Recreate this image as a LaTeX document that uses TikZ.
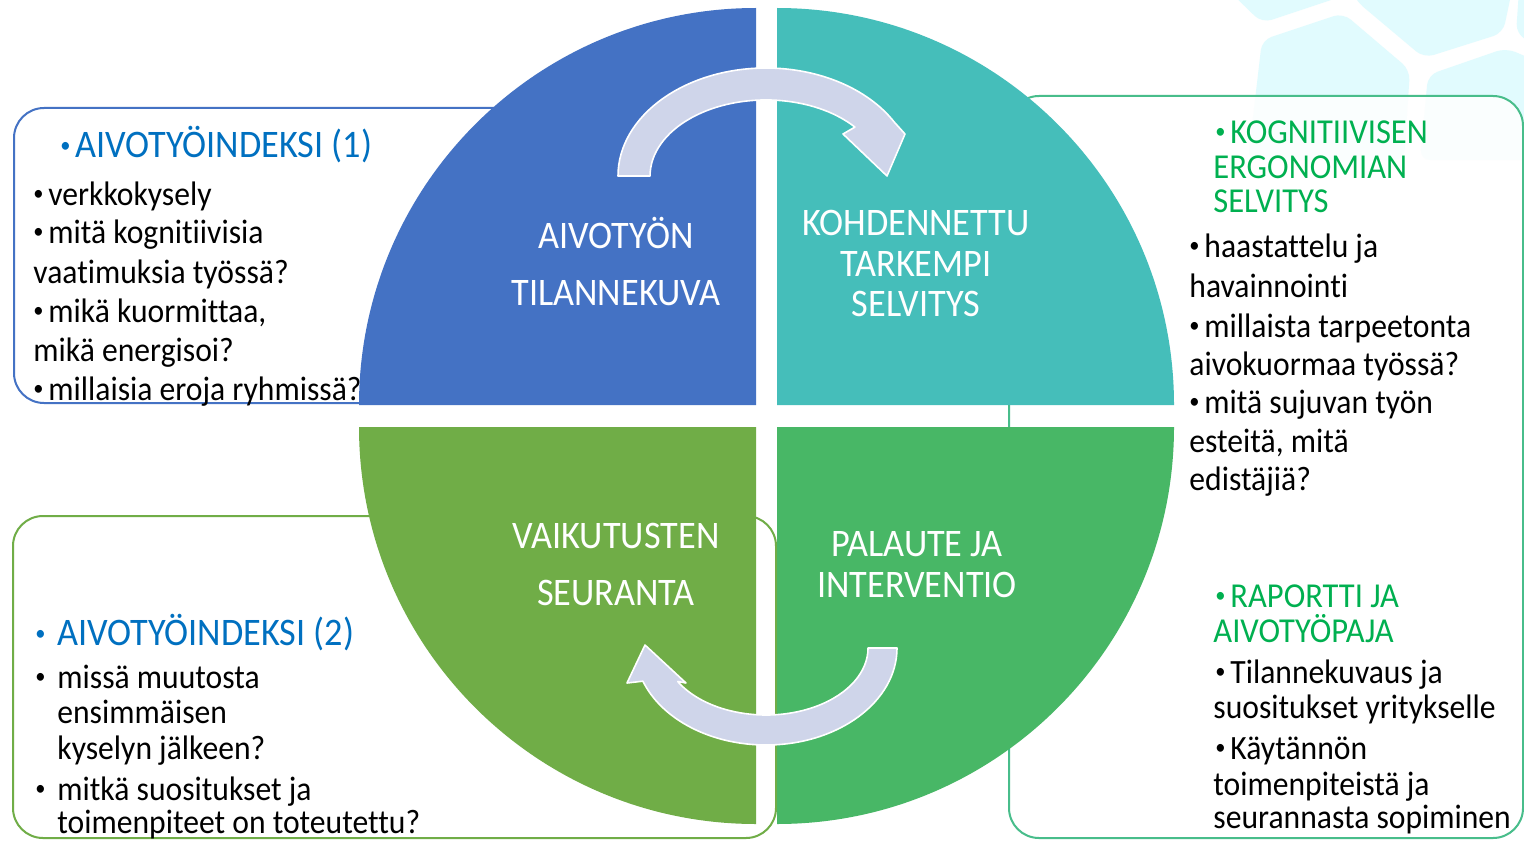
\documentclass[tikz,border=0pt]{standalone}
\usepackage{fontspec}
\setmainfont{Carlito}[FakeStretch=0.93, Ligatures=NoCommon]
\definecolor{qblue}{RGB}{68,114,196}
\definecolor{qteal}{RGB}{69,190,186}
\definecolor{qlgreen}{RGB}{112,173,71}
\definecolor{qgreen}{RGB}{72,183,102}
\definecolor{arrowfill}{RGB}{207,213,234}
\definecolor{headblue}{RGB}{0,112,192}
\definecolor{headgreen}{RGB}{0,176,80}
\definecolor{boxgreen}{RGB}{72,189,139}
\definecolor{hexcyan}{RGB}{225,251,254}
\newcommand\bul{\makebox[7.5pt][l]{\raisebox{0.12em}{\fontsize{11}{11}\selectfont •}}}
\begin{document}
\begin{tikzpicture}[x=0.5pt,y=-0.5pt,
  bodytxt/.style={anchor=base west, inner sep=0pt, font=\fontsize{17}{20}\selectfont, text=black},
  headL/.style={anchor=base west, inner sep=0pt, font=\fontsize{19.5}{23}\selectfont, text=headblue},
  headR/.style={anchor=base west, inner sep=0pt, font=\fontsize{17.5}{21}\selectfont, text=headgreen},
  qlabel/.style={anchor=base, inner sep=0pt, font=\fontsize{19.5}{23}\selectfont, text=white},
  cyclearrow/.style={fill=arrowfill, draw=white, line width=0.8pt, line join=round},
  hexcell/.style={fill=hexcyan, rounded corners=5pt},
  panelbox/.style={line width=1pt, rounded corners=15pt}]
\useasboundingbox (0,0) rectangle (1524,840);
\fill[white] (0,0) rectangle (1524,840);
\begin{scope}
\clip (0,0) rectangle (1524,840);
% background hexagon pattern
\path[hexcell] (1228,-10) -- (1262,23) -- (1340,-3) -- (1345,-10) -- cycle;
\path[hexcell] (1262,40) -- (1343,13) -- (1410,70) -- (1404,160) -- (1248,160) -- cycle;
\path[hexcell] (1352,-10) -- (1355,0) -- (1424,58) -- (1503,33) -- (1512,-10) -- cycle;
\path[hexcell] (1519,-10) -- (1516,34) -- (1534,44) -- (1534,-10) -- cycle;
\path[hexcell] (1428,75) -- (1506,48) -- (1534,60) -- (1534,160) -- (1420,160) -- cycle;
% panels
\draw[panelbox, draw=boxgreen, fill=white, fill opacity=0.85] (1009,96) rectangle (1523,838);
\draw[panelbox, draw=qblue, fill=white] (14,108) rectangle (620,403);
\draw[panelbox, draw=qlgreen, fill=white] (13,516) rectangle (776,838);
\end{scope}
% top-left texts
\node[headL] (tl0) at (60,157) {\bul AIVOTYÖINDEKSI (1)};
\node[bodytxt] (tl1) at (33,205) {\bul verkkokysely};
\node[bodytxt] (tl2) at (33,243) {\bul mitä kognitiivisia};
\node[bodytxt] (tl3) at (33,283) {vaatimuksia työssä?};
\node[bodytxt] (tl4) at (33,322) {\bul mikä kuormittaa,};
\node[bodytxt] (tl5) at (33,361) {mikä energisoi?};
\node[bodytxt] (tl6) at (33,400) {\bul millaisia eroja ryhmissä?};
% top-right texts
\node[headR] (tr0) at (1215,143) {\bul KOGNITIIVISEN};
\node[headR] (tr1) at (1213,178) {ERGONOMIAN};
\node[headR] (tr2) at (1213,212) {SELVITYS};
\node[bodytxt] (tr3) at (1189,257) {\bul haastattelu ja};
\node[bodytxt] (tr4) at (1189,297) {havainnointi};
\node[bodytxt] (tr5) at (1189,337) {\bul millaista tarpeetonta};
\node[bodytxt] (tr6) at (1189,375) {aivokuormaa työssä?};
\node[bodytxt] (tr7) at (1189,413) {\bul mitä sujuvan työn};
\node[bodytxt] (tr8) at (1189,452) {esteitä, mitä};
\node[bodytxt] (tr9) at (1189,490) {edistäjiä?};
% bottom-right texts
\node[headR] (br0) at (1215,607) {\bul RAPORTTI JA};
\node[headR] (br1) at (1213,642) {AIVOTYÖPAJA};
\node[bodytxt] (br2) at (1215,683) {\bul Tilannekuvaus ja};
\node[bodytxt] (br3) at (1213,718) {suositukset yritykselle};
\node[bodytxt] (br4) at (1215,759) {\bul Käytännön};
\node[bodytxt] (br5) at (1213,795) {toimenpiteistä ja};
\node[bodytxt] (br6) at (1213,828) {seurannasta sopiminen};
% bottom-left texts
\node[headL] (blb0) at (35,645) {\bul};
\node[headL] (bl0) at (57,645) {AIVOTYÖINDEKSI (2)};
\node[bodytxt] (blb1) at (35,688) {\bul};
\node[bodytxt] (bl1) at (57,688) {missä muutosta};
\node[bodytxt] (bl2) at (57,723) {ensimmäisen};
\node[bodytxt] (bl3) at (57,759) {kyselyn jälkeen?};
\node[bodytxt] (blb4) at (35,800) {\bul};
\node[bodytxt] (bl4) at (57,800) {mitkä suositukset ja};
\node[bodytxt] (bl5) at (57,833) {toimenpiteet on toteutettu?};
% quadrants
\fill[qblue] (756,405) -- (359,405) arc[start angle=180, end angle=270, radius=397] -- cycle;
\fill[qteal] (777,405) -- (777,8) arc[start angle=270, end angle=360, radius=397] -- cycle;
\fill[qgreen] (777,427) -- (1174,427) arc[start angle=0, end angle=90, radius=397] -- cycle;
\fill[qlgreen] (756,427) -- (756,824) arc[start angle=90, end angle=180, radius=397] -- cycle;
% quadrant labels
\node[qlabel] (q1a) at (616,248) {AIVOTYÖN};
\node[qlabel] (q1b) at (616,305) {TILANNEKUVA};
\node[qlabel] (q2a) at (916,235) {KOHDENNETTU};
\node[qlabel] (q2b) at (916,276) {TARKEMPI};
\node[qlabel] (q2c) at (916,316) {SELVITYS};
\node[qlabel] (q3a) at (917,556) {PALAUTE JA};
\node[qlabel] (q3b) at (917,597) {INTERVENTIO};
\node[qlabel] (q4a) at (616,548) {VAIKUTUSTEN};
\node[qlabel] (q4b) at (616,605) {SEURANTA};
% cycle arrows
\path[cyclearrow] (618,176) arc[start angle=180, end angle=330, x radius=148, y radius=108]
  -- (905,134) -- (887,176) -- (843,134) -- (854.9,127.1)
  arc[start angle=320, end angle=180, x radius=116, y radius=76] -- cycle;
\path[cyclearrow] (897,648) arc[start angle=0, end angle=160, x radius=131, y radius=97]
  -- (627,683) -- (645,645) -- (686,683) -- (677.7,681.5)
  arc[start angle=150, end angle=0, x radius=102, y radius=67] -- cycle;
\end{tikzpicture}
\end{document}
